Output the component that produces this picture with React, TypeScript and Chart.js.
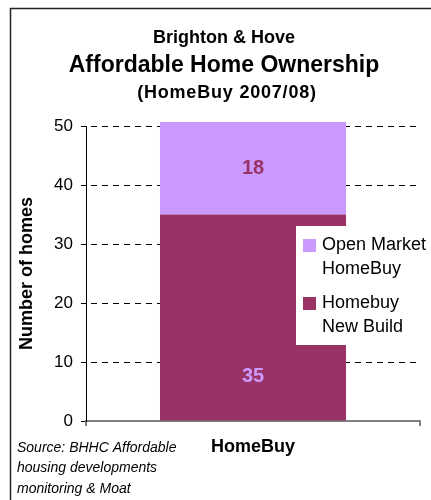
import React, { useEffect, useRef } from "react";
import { Chart, registerables } from "chart.js";

Chart.register(...registerables);

const categories = ["HomeBuy"];
const newBuildValues = [35];
const openMarketValues = [18];
const seriesLabels = ["Homebuy New Build", "Open Market HomeBuy"];
const legendLines = [
  ["Open Market", "HomeBuy"],
  ["Homebuy", "New Build"],
];
const yMin = 0;
const yMax = 50;
const yStep = 10;
const titleLines = ["Brighton & Hove", "Affordable Home Ownership", "(HomeBuy 2007/08)"];
const yAxisTitle = "Number of homes";
const sourceLines = ["Source: BHHC Affordable", "housing developments", "monitoring & Moat"];

const COLOR_NEW = "#993366";
const COLOR_OPEN = "#CC99FF";
const FONT = "'Liberation Sans', Arial, Helvetica, sans-serif";

const decorPlugin = {
  id: "decor",
  beforeDraw(chart: any) {
    const ctx = chart.ctx;
    ctx.save();
    ctx.fillStyle = "#fff";
    ctx.fillRect(0, 0, chart.width, chart.height);
    // frame
    ctx.strokeStyle = "#222";
    ctx.lineWidth = 1.5;
    ctx.beginPath();
    ctx.moveTo(10.5, chart.height);
    ctx.lineTo(10.5, 8.5);
    ctx.lineTo(chart.width, 8.5);
    ctx.stroke();
    // titles
    ctx.fillStyle = "#000";
    ctx.textAlign = "center";
    ctx.textBaseline = "alphabetic";
    const cx = 224;
    ctx.font = `bold 18px ${FONT}`;
    ctx.fillText(titleLines[0], cx, 43);
    ctx.font = `bold 23px ${FONT}`;
    ctx.fillText(titleLines[1], cx, 72);
    ctx.font = `bold 18px ${FONT}`;
    (ctx as any).letterSpacing = "0.8px";
    ctx.fillText(titleLines[2], cx + 3, 98);
    (ctx as any).letterSpacing = "0px";
    // source
    ctx.textAlign = "left";
    ctx.textBaseline = "middle";
    ctx.font = `italic 14px ${FONT}`;
    sourceLines.forEach((l, i) => ctx.fillText(l, 17, 448 + i * 20.5));
    ctx.restore();
  },
  afterDatasetsDraw(chart: any) {
    const ctx = chart.ctx;
    const area = chart.chartArea;
    ctx.save();
    // data labels
    ctx.textAlign = "center";
    ctx.textBaseline = "middle";
    ctx.font = `bold 20px ${FONT}`;
    const mNew = chart.getDatasetMeta(0).data[0];
    const mOpen = chart.getDatasetMeta(1).data[0];
    if (mOpen) {
      const top = Math.max(mOpen.y, area.top - 4);
      ctx.fillStyle = COLOR_NEW;
      ctx.fillText(String(openMarketValues[0]), mOpen.x, (top + mOpen.base) / 2);
    }
    if (mNew) {
      ctx.fillStyle = COLOR_OPEN;
      ctx.fillText(String(newBuildValues[0]), mNew.x, mNew.base - 44);
    }
    // legend
    const lx = 296;
    const ly = 226;
    ctx.fillStyle = "#fff";
    ctx.fillRect(lx, ly, chart.width - lx, 119);
    const colors = [COLOR_OPEN, COLOR_NEW];
    ctx.font = `18px ${FONT}`;
    ctx.textAlign = "left";
    legendLines.forEach((lines, i) => {
      const y0 = ly + 19 + i * 58;
      ctx.fillStyle = colors[i];
      ctx.fillRect(lx + 7, y0 - 6, 13, 13);
      ctx.fillStyle = "#000";
      lines.forEach((t, j) => ctx.fillText(t, lx + 26, y0 + j * 24));
    });
    ctx.restore();
  },
};

export default function App() {
  const ref = useRef<HTMLCanvasElement>(null);
  useEffect(() => {
    if (!ref.current) return;
    const chart = new Chart(ref.current, {
      type: "bar",
      data: {
        labels: categories,
        datasets: [
          {
            label: seriesLabels[0],
            data: newBuildValues,
            backgroundColor: COLOR_NEW,
            categoryPercentage: 1,
            barPercentage: 0.557,
            clip: { left: 0, top: 4, right: 0, bottom: 0 } as any,
          },
          {
            label: seriesLabels[1],
            data: openMarketValues,
            backgroundColor: COLOR_OPEN,
            categoryPercentage: 1,
            barPercentage: 0.557,
            clip: { left: 0, top: 4, right: 0, bottom: 0 } as any,
          },
        ],
      },
      options: {
        responsive: false,
        animation: false,
        layout: { padding: { left: 0, top: 126, right: 11, bottom: 0 } },
        plugins: {
          legend: { display: false },
          title: { display: false },
          tooltip: { enabled: false },
        },
        scales: {
          x: {
            stacked: true,
            grid: {
              display: true,
              drawOnChartArea: false,
              drawTicks: true,
              tickLength: 5,
              color: "#808080",
              lineWidth: 2,
            },
            border: { display: true, color: "#808080", width: 2 },
            ticks: {
              color: "#000",
              padding: 10,
              font: { family: FONT, size: 18, weight: "bold" },
            },
            afterFit: (s: any) => {
              s.height = 79;
            },
          },
          y: {
            stacked: true,
            min: yMin,
            max: yMax,
            ticks: {
              stepSize: yStep,
              color: "#000",
              padding: 8,
              font: { family: FONT, size: 17 },
            },
            grid: {
              color: (c: any) => (c.tick && c.tick.value === 0 ? "rgba(0,0,0,0)" : "#000"),
              tickColor: "#000",
              lineWidth: 1,
              drawTicks: true,
              tickLength: 5,
            },
            border: { display: true, color: "#000", width: 1, dash: [6, 5], dashOffset: 7 },
            title: {
              display: true,
              text: yAxisTitle,
              color: "#000",
              font: { family: FONT, size: 18, weight: "bold" },
              padding: { top: 16, bottom: 0 },
            },
            afterFit: (s: any) => {
              s.width = 86;
            },
          },
        },
      },
      plugins: [decorPlugin],
    });
    return () => chart.destroy();
  }, []);
  return (
    <div style={{ position: "absolute", left: 0, top: 0, width: 431, height: 500 }}>
      <canvas ref={ref} width={431} height={500} style={{ width: 431, height: 500, display: "block" }} />
    </div>
  );
}
